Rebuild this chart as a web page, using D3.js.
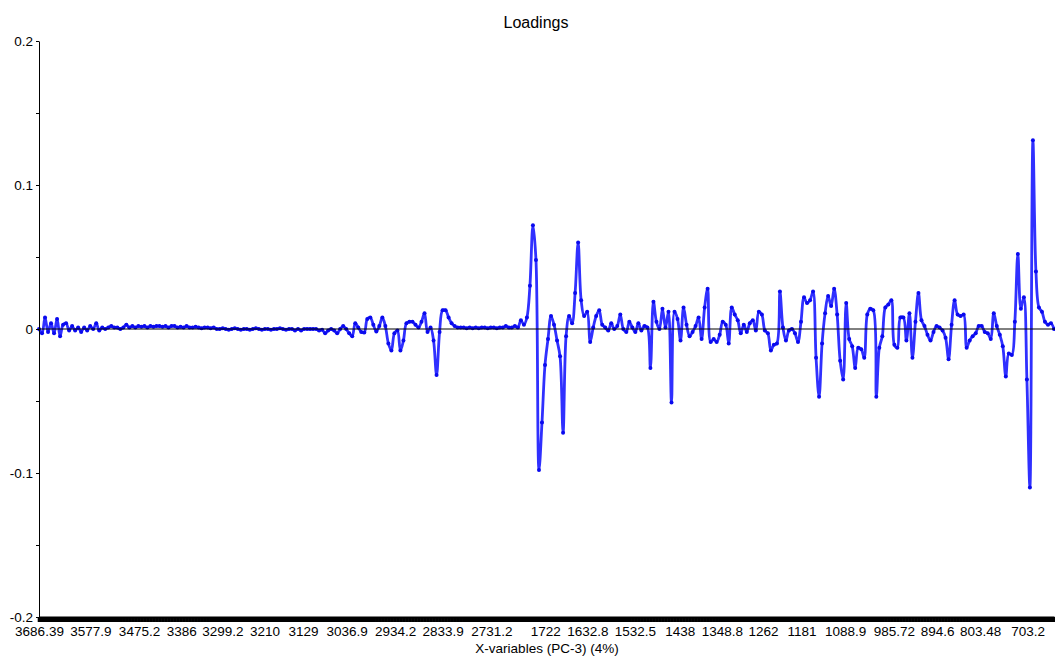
<!DOCTYPE html>
<html>
<head>
<meta charset="utf-8">
<script src="https://cdn.jsdelivr.net/npm/d3@7"></script>
<style>
	body { margin: 0; background: #fff; }
	svg text { font-family: "Liberation Sans", Arial, Helvetica, sans-serif; fill: #000; }
</style>
</head>
<body>
<div id="chart"></div>
<script>

	// Etiquetas del eje X (números de onda, cm-1)
	var tickLabels = ["3686.39", "3577.9", "3475.2", "3386", "3299.2", "3210", "3129",
		"3036.9", "2934.2", "2833.9", "2731.2", "1722", "1632.8", "1532.5", "1438",
		"1348.8", "1262", "1181", "1088.9", "985.72", "894.6", "803.48", "703.2"];

	// Dos zonas del espectro, el hueco entre ellas está recortado
	var highStart = 3686.39;
	var lowStart = 1805.2;
	var wnStep = 6.36;

	// Loadings PC-3, zona alta (3686 - 2707)
	var loadingsHigh = [
		0.000, -0.003, 0.008, -0.002, 0.004, -0.003, 0.007, -0.005, 0.003, 0.004, -0.001, 0.002, -0.001, 0.001, -0.002,
		0.001, -0.001, 0.002, 0.000, 0.004, -0.001, 0.001, 0.000, 0.001, 0.002, 0.001, 0.001, 0.000, 0.001, 0.003,
		0.001, 0.002, 0.001, 0.002, 0.0015, 0.002, 0.001, 0.002, 0.0015, 0.002, 0.002, 0.0015, 0.002, 0.001, 0.002,
		0.002, 0.001, 0.0015, 0.001, 0.002, 0.001, 0.001, 0.0015, 0.001, 0.0005, 0.001, 0.001, 0.0005, 0.001, 0.000,
		0.000, 0.0005, 0.000, -0.0005, 0.000, 0.0005, 0.000, -0.0005, 0.000, 0.000, -0.0005, 0.000, 0.0005, 0.000, -0.0005,
		0.000, 0.000, -0.0005, 0.000, 0.000, 0.0005, 0.000, -0.0005, 0.000, 0.000, -0.001, 0.000, -0.001, 0.000, 0.000,
		0.000, 0.000, 0.000, -0.001, -0.0005, -0.003, -0.001, 0.000, -0.001, -0.003, 0.000, 0.002, 0.000, -0.003, -0.005,
		0.004, 0.001, -0.002, -0.0025, 0.007, 0.008, 0.003, -0.0017, 0.002, 0.008, 0.002, -0.010, -0.015, -0.003, -0.001,
		-0.015, -0.008, 0.004, 0.005, 0.005, 0.003, 0.001, 0.005, 0.011, -0.002, 0.001, -0.008, -0.032, -0.002, 0.013,
		0.013, 0.008, 0.004, 0.002, 0.001, 0.001, 0.001, 0.0005, 0.001, 0.0005, 0.001, 0.0005, 0.001, 0.001, 0.0005,
		0.001, 0.001, 0.0005, 0.001, 0.001
	];

	// Loadings PC-3, zona baja (1805 - 648)
	var loadingsLow = [
		0.002, 0.001, 0.001, 0.002, 0.001, 0.006, 0.003, 0.008, 0.030, 0.072,
		0.048, -0.098, -0.065, -0.025, -0.007, 0.009, 0.003, -0.008, -0.019, -0.072, -0.005, 0.009, 0.004, 0.025, 0.060,
		0.020, 0.009, 0.012, -0.009, 0.001, 0.009, 0.013, 0.003, 0.001, -0.001, 0.004, 0.000, 0.002, 0.010, 0.000,
		-0.002, 0.005, 0.001, -0.002, 0.004, -0.001, 0.002, 0.001, -0.027, 0.019, 0.005, 0.000, 0.014, 0.001, 0.012,
		-0.051, 0.012, 0.007, -0.008, 0.015, 0.003, -0.005, -0.002, 0.002, 0.008, -0.007, 0.015, 0.028, -0.009, -0.007,
		-0.009, -0.004, 0.005, 0.003, -0.010, 0.015, 0.010, 0.006, -0.003, 0.003, -0.002, 0.004, 0.006, -0.001, 0.012,
		0.010, -0.001, -0.003, -0.015, -0.011, -0.010, 0.026, 0.001, -0.008, -0.001, 0.000, -0.003, -0.009, 0.005, 0.022,
		0.018, 0.020, 0.026, -0.020, -0.047, -0.010, 0.011, 0.023, 0.016, 0.028, 0.010, -0.022, -0.035, 0.018, -0.007,
		-0.012, -0.027, -0.013, -0.014, -0.020, 0.010, 0.014, 0.013, -0.047, -0.013, -0.005, 0.015, 0.017, 0.020, -0.011,
		-0.013, 0.008, 0.008, -0.008, 0.011, -0.020, 0.005, 0.025, 0.006, 0.002, -0.004, -0.008, -0.002, 0.002, 0.001,
		-0.001, -0.006, -0.021, 0.003, 0.020, 0.010, 0.009, 0.010, -0.013, -0.008, -0.005, -0.003, 0.002, 0.002, -0.002,
		-0.003, -0.007, 0.011, 0.002, -0.004, -0.012, -0.033, -0.017, -0.018, 0.005, 0.052, 0.014, 0.022, -0.035, -0.110,
		0.131, 0.040, 0.015, 0.012, 0.005, 0.003, 0.004, 0.000
	];

	var yDomain = [-0.2, 0.2];
	var yLabelTicks = [-0.2, -0.1, 0, 0.1, 0.2];

	var width = 1055, height = 657;
	var margin = { top: 41, right: 1, bottom: 40, left: 39 };

	// Puntos [número de onda, loading] de las dos zonas
	var high = loadingsHigh.map(function(v, i) { return [highStart - i * wnStep, v]; });
	var low = loadingsLow.map(function(v, i) { return [lowStart - i * wnStep, v]; });
	var highEnd = high[high.length - 1][0];
	var lowEnd = low[low.length - 1][0];

	var svg = d3.select("#chart").append("svg")
		.attr("width", width)
		.attr("height", height);

	// Escala X a trozos: misma pendiente en las dos zonas, hueco de un paso
	var x0 = margin.left, x1 = width - margin.right;
	var k = (x1 - x0) / ((highStart - highEnd) + wnStep + (lowStart - lowEnd));
	var x = d3.scaleLinear()
		.domain([highStart, highEnd, lowStart, lowEnd])
		.range([x0, x0 + (highStart - highEnd) * k,
			x0 + (highStart - highEnd + wnStep) * k, x1]);

	var y = d3.scaleLinear()
		.domain(yDomain)
		.range([height - margin.bottom, margin.top]);

	/**
	 * Ejes
	 */
	function drawAxes() {
		// Eje Y: marcas cada 0.05, texto solo en las décimas
		var yAxis = svg.append("g")
			.attr("transform", "translate(" + margin.left + ",0)")
			.call(d3.axisLeft(y)
				.tickValues(y.ticks(8))
				.tickSize(3)
				.tickPadding(3)
				.tickSizeOuter(0)
				.tickFormat(function(d) {
					var hit = yLabelTicks.some(function(t) { return Math.abs(t - d) < 1e-9; });
					return hit ? String(+d.toFixed(2)) : "";
				}));
		yAxis.selectAll("text").style("font-size", "13.5px");
		yAxis.selectAll("line, path").attr("stroke", "#000");

		// Eje X: una marca por variable, tan densas que forman una barra
		var xBar = svg.append("g")
			.attr("transform", "translate(0," + y(yDomain[0]) + ")")
			.call(d3.axisBottom(x)
				.tickValues(high.concat(low).map(function(d) { return d[0]; }))
				.tickSize(5)
				.tickSizeOuter(0)
				.tickFormat(""));
		xBar.selectAll(".tick line").attr("stroke", "#000").attr("stroke-width", 3.6);
		xBar.select(".domain").attr("stroke", "#000").attr("stroke-width", 2);

		var xText = svg.append("g")
			.attr("transform", "translate(0," + y(yDomain[0]) + ")")
			.call(d3.axisBottom(x)
				.tickValues(tickLabels.map(function(d) { return +d; }))
				.tickSize(0)
				.tickPadding(9)
				.tickFormat(function(d, i) { return tickLabels[i]; }));
		xText.select(".domain").remove();
		xText.selectAll("text").style("font-size", "13.5px");
	}

	/**
	 * Curva de loadings con sus puntos
	 */
	function drawLoadings() {
		var line = d3.line()
			.x(function(d) { return x(d[0]); })
			.y(function(d) { return y(d[1]); })
			.curve(d3.curveCatmullRom.alpha(0.5));

		// La curva sigue seguida a través del hueco, como en el original
		var all = high.concat(low);

		svg.append("path")
			.datum(all)
			.attr("fill", "none")
			.attr("stroke", "#3030ff")
			.attr("stroke-width", 2.8)
			.attr("stroke-linejoin", "round")
			.attr("d", line);

		svg.append("g").selectAll("circle")
			.data(all)
			.enter().append("circle")
			.attr("cx", function(d) { return x(d[0]); })
			.attr("cy", function(d) { return y(d[1]); })
			.attr("r", 2)
			.attr("fill", "#0a0aee");

		// Línea del cero
		svg.append("line")
			.attr("x1", margin.left).attr("x2", width)
			.attr("y1", y(0)).attr("y2", y(0))
			.attr("stroke", "#000").attr("stroke-width", 1);
	}

	function drawTitles() {
		svg.append("text")
			.attr("x", 536).attr("y", 28)
			.attr("text-anchor", "middle")
			.style("font-size", "16px")
			.text("Loadings");

		svg.append("text")
			.attr("x", 547).attr("y", 653)
			.attr("text-anchor", "middle")
			.style("font-size", "13.5px")
			.text("X-variables (PC-3) (4%)");
	}

	drawLoadings();
	drawAxes();
	drawTitles();

</script>
</body>
</html>
